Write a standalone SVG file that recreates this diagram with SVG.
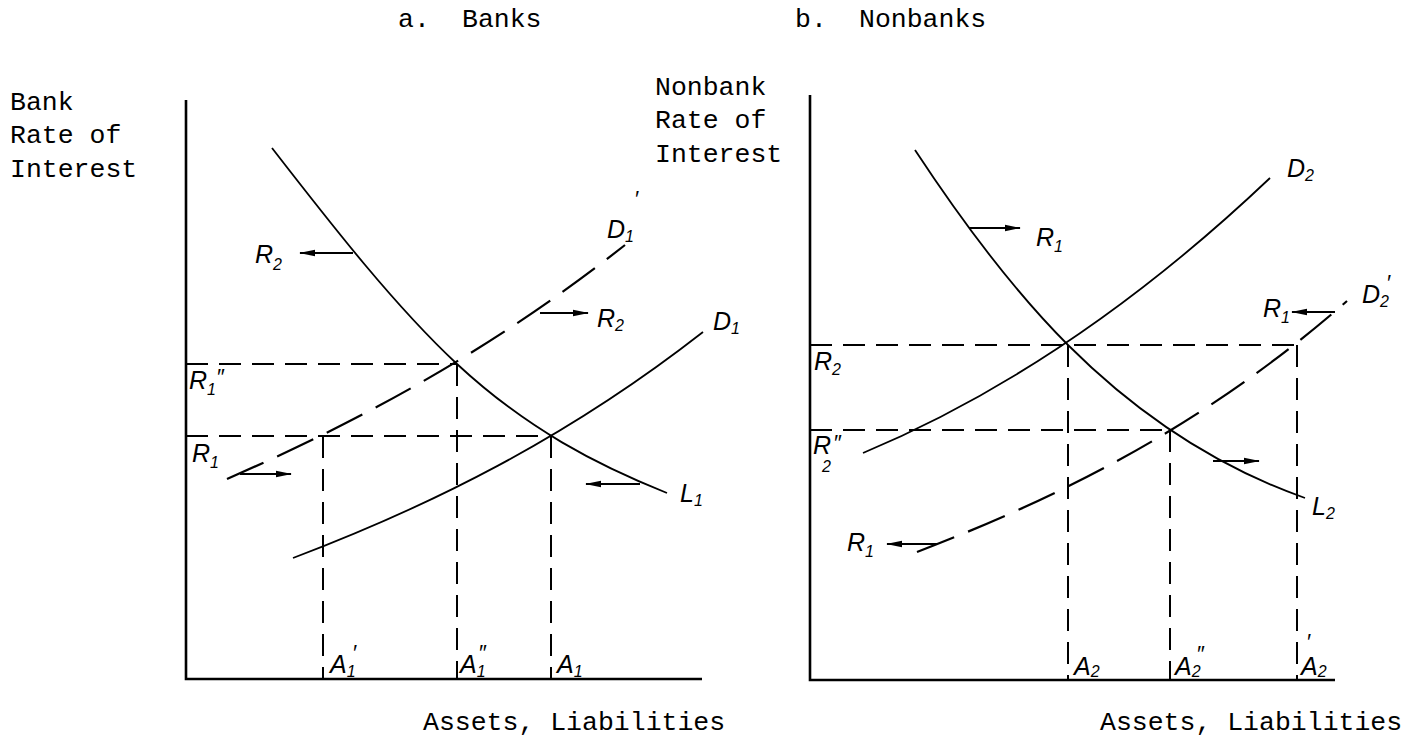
<svg xmlns="http://www.w3.org/2000/svg" width="1424" height="738" viewBox="0 0 1424 738">
<defs>
<marker id="ah" viewBox="0 0 16 8" refX="15" refY="4" markerWidth="16" markerHeight="8" markerUnits="userSpaceOnUse" orient="auto">
<path d="M0,0.8 L16,4 L0,7.2 Z" fill="#000"/>
</marker>
<style>
.axis{stroke:#000;stroke-width:2.6;fill:none}
.curve{stroke:#000;stroke-width:1.8;fill:none}
.dcurve{stroke:#000;stroke-width:2.2;fill:none;stroke-dasharray:40 15}
.ref{stroke:#000;stroke-width:2;fill:none;stroke-dasharray:22 11}
.arr{stroke:#000;stroke-width:2;fill:none;marker-end:url(#ah)}
.mono{font-family:"Liberation Mono","DejaVu Sans Mono",monospace;font-size:26.5px;fill:#000}
.lab{font-family:"Liberation Sans","DejaVu Sans",sans-serif;font-style:italic;font-size:25px;fill:#000}
.sub{font-size:16px}
.pr{font-family:"Liberation Sans","DejaVu Sans",sans-serif;font-style:italic;font-size:22px;fill:#000}
</style>
</defs>
<rect width="1424" height="738" fill="#fff"/>

<g id="titles">
<text class="mono" x="398" y="27">a.</text>
<text class="mono" x="462" y="27">Banks</text>
<text class="mono" x="795" y="27">b.</text>
<text class="mono" x="859" y="27">Nonbanks</text>
<text class="mono" x="10" y="110">Bank</text>
<text class="mono" x="10" y="143">Rate of</text>
<text class="mono" x="10" y="177">Interest</text>
<text class="mono" x="655" y="95">Nonbank</text>
<text class="mono" x="655" y="128">Rate of</text>
<text class="mono" x="655" y="162">Interest</text>
<text class="mono" x="423" y="730">Assets, Liabilities</text>
<text class="mono" x="1100" y="730">Assets, Liabilities</text>
</g>

<g id="panel-a">
<g id="axes-a">
<path class="axis" d="M186,100 L186,679 L702,679"/>
</g>
<g id="refs-a">
<path class="ref" d="M186,364 L457,364 M186,436 L551,436 M323,436 L323,679 M457,364 L457,679 M551,436 L551,679"/>
</g>
<g id="curves-a">
<path id="L1" class="curve" d="M272,148 C334,228 395,306 457,364 C527,429 597,465 667,493"/>
<path id="D1" class="curve" d="M293,558 C430,506 566,439 703,332"/>
<path id="D1p" class="dcurve" d="M227,479 C360,421 492,350 625,245"/>
</g>
<g id="arrows-a">
<line class="arr" x1="353" y1="253" x2="300" y2="253"/>
<line class="arr" x1="240" y1="474" x2="291" y2="474"/>
<line class="arr" x1="540" y1="313" x2="588" y2="313"/>
<line class="arr" x1="640" y1="484" x2="586" y2="484"/>
</g>
<g id="labels-a">
<text class="lab" x="255" y="263">R<tspan class="sub" dy="7">2</tspan></text>
<text class="lab" x="189" y="389">R<tspan class="sub" dy="6">1</tspan></text>
<text class="pr" x="216" y="384">″</text>
<text class="lab" x="192" y="462">R<tspan class="sub" dy="6">1</tspan></text>
<text class="lab" x="607" y="238">D<tspan class="sub" dy="4">1</tspan></text>
<text class="pr" x="634" y="206">′</text>
<text class="lab" x="597" y="327">R<tspan class="sub" dy="4">2</tspan></text>
<text class="lab" x="713" y="330">D<tspan class="sub" dy="4">1</tspan></text>
<text class="lab" x="680" y="502">L<tspan class="sub" dy="4">1</tspan></text>
<text class="lab" x="330" y="673">A<tspan class="sub" dy="4">1</tspan></text>
<text class="pr" x="352" y="660">′</text>
<text class="lab" x="460" y="673">A<tspan class="sub" dy="4">1</tspan></text>
<text class="pr" x="478" y="660">″</text>
<text class="lab" x="557" y="673">A<tspan class="sub" dy="4">1</tspan></text>
</g>
</g>

<g id="panel-b">
<g id="axes-b">
<path class="axis" d="M810,95 L810,680 L1335,680"/>
</g>
<g id="refs-b">
<path class="ref" d="M810,345 L1297,345 M810,430 L1170,430 M1068,345 L1068,680 M1170,430 L1170,680 M1297,345 L1297,680"/>
</g>
<g id="curves-b">
<path id="L2" class="curve" d="M915,150 C965,226 1018,295 1068,345 C1147,424 1226,470 1305,498"/>
<path id="D2" class="curve" d="M863,453 C999,396 1134,307 1270,178"/>
<path id="D2p" class="dcurve" d="M917,552 C1060,497 1204,426 1347,301"/>
</g>
<g id="arrows-b">
<line class="arr" x1="969" y1="228" x2="1020" y2="228"/>
<line class="arr" x1="1213" y1="461" x2="1259" y2="461"/>
<line class="arr" x1="1335" y1="312" x2="1292" y2="312"/>
<line class="arr" x1="937" y1="544" x2="887" y2="544"/>
</g>
<g id="labels-b">
<text class="lab" x="1036" y="246">R<tspan class="sub" dy="6">1</tspan></text>
<text class="lab" x="1287" y="177">D<tspan class="sub" dy="4">2</tspan></text>
<text class="lab" x="1263" y="317">R<tspan class="sub" dy="6">1</tspan></text>
<text class="lab" x="1362" y="303">D<tspan class="sub" dy="4">2</tspan></text>
<text class="pr" x="1386" y="290">′</text>
<text class="lab" x="814" y="370">R<tspan class="sub" dy="5">2</tspan></text>
<text class="lab" x="813" y="454">R</text>
<text class="lab sub" x="822" y="472">2</text>
<text class="pr" x="833" y="450">″</text>
<text class="lab" x="847" y="551">R<tspan class="sub" dy="6">1</tspan></text>
<text class="lab" x="1312" y="515">L<tspan class="sub" dy="4">2</tspan></text>
<text class="lab" x="1074" y="675">A<tspan class="sub" dy="2">2</tspan></text>
<text class="lab" x="1175" y="675">A<tspan class="sub" dy="2">2</tspan></text>
<text class="pr" x="1196" y="661">″</text>
<text class="lab" x="1301" y="675">A<tspan class="sub" dy="2">2</tspan></text>
<text class="pr" x="1306" y="649">′</text>
</g>
</g>
</svg>
